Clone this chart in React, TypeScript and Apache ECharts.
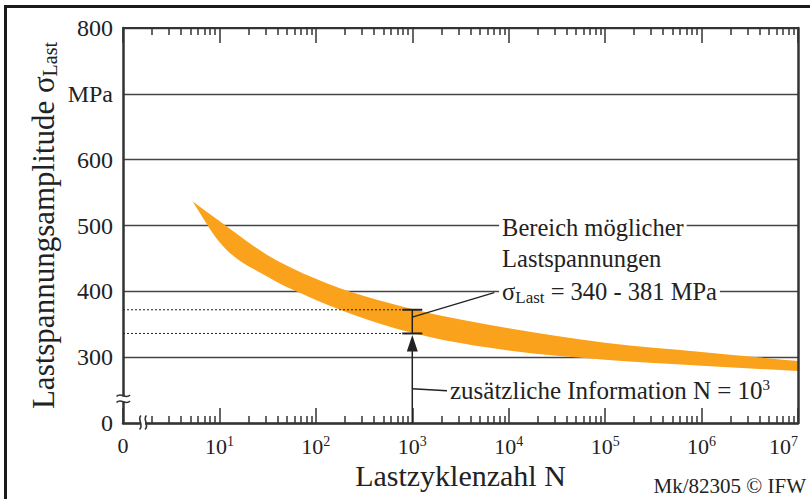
import React, { useEffect, useRef } from "react";
import * as echarts from "echarts";

const FONT = '"Liberation Serif", "Times New Roman", serif';
const INK = "#222";
const AXIS = "#333";
const BAND = "#FAA21B";

// ---- axes ----
const yTickValues = [200, 300, 400, 500, 600, 700, 800];
const yTickLabels = ["0", "300", "400", "500", "600", "MPa", "800"];
const xTickExponents = [0, 1, 2, 3, 4, 5, 6, 7];
const xTickLabels = ["0", "10^1", "10^2", "10^3", "10^4", "10^5", "10^6", "10^7"];
const minorMultipliers = [2, 3, 4, 5, 6, 7, 8, 9];

// ---- band of possible load stresses (N, sigma in MPa) ----
const bandUpperN = [5.25, 10, 31.6, 100, 1000, 10000, 100000, 1000000, 10000000];
const bandUpperSigma = [537, 507, 455, 419, 373, 344, 322, 308, 294];
const bandLowerN = [5.25, 10, 31.6, 100, 1000, 10000, 100000, 1000000, 10000000];
const bandLowerSigma = [537, 475, 422, 387, 337, 310, 296, 287, 279];

// ---- annotation at N = 10^3 ----
const annotN = 1000;
const annotSigmaLow = 336;
const annotSigmaHigh = 372;
const sigmaLeader = [[1000, 361], [7080, 398]];
const infoLeader = [[1000, 252], [2291, 249]];
const labelBereich = [7943, 497];
const labelLastsp = [7943, 450];
const labelSigma = [7943, 399];
const labelInfo = [2291, 250];

const Y_MIN = 200;
const Y_MAX = 800;

// Piecewise cubic Hermite (in x) through pixel points sorted by x; returns Bezier segments.
function hermiteSegments(p: number[][]): number[][][] {
  const n = p.length;
  const m: number[] = new Array(n).fill(0);
  for (let i = 0; i < n; i++) {
    if (i === 0) m[i] = (p[1][1] - p[0][1]) / (p[1][0] - p[0][0]);
    else if (i === n - 1) m[i] = (p[i][1] - p[i - 1][1]) / (p[i][0] - p[i - 1][0]);
    else {
      const h0 = p[i][0] - p[i - 1][0];
      const h1 = p[i + 1][0] - p[i][0];
      const d0 = (p[i][1] - p[i - 1][1]) / h0;
      const d1 = (p[i + 1][1] - p[i][1]) / h1;
      m[i] = (d0 * h1 + d1 * h0) / (h0 + h1);
    }
  }
  const segs: number[][][] = [];
  for (let i = 0; i < n - 1; i++) {
    const h = p[i + 1][0] - p[i][0];
    segs.push([
      p[i],
      [p[i][0] + h / 3, p[i][1] + (m[i] * h) / 3],
      [p[i + 1][0] - h / 3, p[i + 1][1] - (m[i + 1] * h) / 3],
      p[i + 1],
    ]);
  }
  return segs;
}

export default function App() {
  const ref = useRef<HTMLDivElement>(null);

  useEffect(() => {
    if (!ref.current) return;
    const chart = echarts.init(ref.current, null, { renderer: "svg" });

    const lg = (n: number) => Math.log10(n);
    const xMinor: number[] = [];
    for (let e = xTickExponents[0]; e < xTickExponents[xTickExponents.length - 1]; e++) {
      for (const k of minorMultipliers) xMinor.push(e + Math.log10(k));
    }
    const xMin = xTickExponents[0];
    const xMax = xTickExponents[xTickExponents.length - 1];

    const xBase: any = {
      type: "value",
      min: xMin,
      max: xMax,
      interval: 1,
      gridIndex: 0,
      splitLine: { show: false },
      nameMoveOverlap: false,
    };
    const tickStyle = { color: AXIS, width: 1.5 };

    const xLabelFormatter = (v: number) => {
      const i = xTickExponents.indexOf(Math.round(v));
      if (i < 0) return "";
      const t = xTickLabels[i];
      if (t.indexOf("^") < 0) return `{b|${t}}`;
      const [b, s] = t.split("^");
      return `{b|${b}}{sup|${s}}`;
    };

    const option: any = {
      animation: false,
      grid: { left: 123, top: 28, right: 12, bottom: 76, containLabel: false, outerBoundsMode: "none" },
      xAxis: [
        {
          ...xBase,
          position: "bottom",
          axisLine: { show: true, onZero: false, lineStyle: { color: AXIS, width: 2.5 } },
          axisTick: { show: true, inside: true, length: 15, lineStyle: tickStyle },
          axisLabel: {
            show: true,
            margin: 11,
            alignMaxLabel: "right",
            formatter: xLabelFormatter,
            rich: {
              b: { fontSize: 22, fontFamily: FONT, color: INK },
              sup: { fontSize: 14, fontFamily: FONT, color: INK, padding: [0, 0, 10, 0] },
            },
          },
          name: "Lastzyklenzahl N",
          nameLocation: "middle",
          nameGap: 37,
          nameTextStyle: { fontSize: 30, fontFamily: FONT, color: INK },
        },
        {
          ...xBase,
          position: "bottom",
          axisLine: { show: false, onZero: false },
          axisTick: { show: true, inside: true, length: 7, customValues: xMinor, lineStyle: tickStyle },
          axisLabel: { show: false },
        },
        {
          ...xBase,
          position: "top",
          axisLine: { show: true, onZero: false, lineStyle: { color: AXIS, width: 2 } },
          axisTick: { show: true, inside: true, length: 15, lineStyle: tickStyle },
          axisLabel: { show: false },
        },
        {
          ...xBase,
          position: "top",
          axisLine: { show: false, onZero: false },
          axisTick: { show: true, inside: true, length: 7, customValues: xMinor, lineStyle: tickStyle },
          axisLabel: { show: false },
        },
      ],
      yAxis: [
        {
          type: "value",
          min: Y_MIN,
          max: Y_MAX,
          interval: 100,
          position: "left",
          nameMoveOverlap: false,
          axisLine: { show: true, onZero: false, lineStyle: { color: AXIS, width: 2.5 } },
          axisTick: { show: false },
          axisLabel: {
            margin: 10,
            fontSize: 24,
            fontFamily: FONT,
            color: INK,
            formatter: (v: number) => {
              const i = yTickValues.indexOf(v);
              return i < 0 ? "" : yTickLabels[i];
            },
          },
          splitLine: { show: true, lineStyle: { color: "#444", width: 1.4 } },
          name: "{t|Lastspannungsamplitude σ}{sub|Last}",
          nameLocation: "middle",
          nameRotate: 90,
          nameGap: 63,
          nameTextStyle: {
            color: INK,
            fontFamily: FONT,
            fontSize: 31,
            rich: {
              t: { fontSize: 31, fontFamily: FONT, color: INK },
              sub: { fontSize: 20, fontFamily: FONT, color: INK, padding: [14, 0, 0, 0] },
            },
          },
        },
        {
          type: "value",
          min: Y_MIN,
          max: Y_MAX,
          interval: 100,
          position: "right",
          z: 10,
          axisLine: { show: true, onZero: false, lineStyle: { color: AXIS, width: 2.5 } },
          axisTick: { show: false },
          axisLabel: { show: false },
          splitLine: { show: false },
        },
      ],
      series: [
        {
          type: "custom",
          name: "band",
          xAxisIndex: 0,
          yAxisIndex: 0,
          silent: true,
          z: 2,
          data: [[xMin, Y_MIN]],
          renderItem: (params: any, api: any) => {
            const up = bandUpperN.map((n, i) => api.coord([lg(n), bandUpperSigma[i]]));
            const lo = bandLowerN.map((n, i) => api.coord([lg(n), bandLowerSigma[i]]));
            const upSeg = hermiteSegments(up);
            const loSeg = hermiteSegments(lo).reverse();
            let d = `M ${up[0][0]} ${up[0][1]}`;
            for (const s of upSeg) d += ` C ${s[1][0]} ${s[1][1]} ${s[2][0]} ${s[2][1]} ${s[3][0]} ${s[3][1]}`;
            const last = lo[lo.length - 1];
            d += ` L ${last[0]} ${last[1]}`;
            for (const s of loSeg) d += ` C ${s[2][0]} ${s[2][1]} ${s[1][0]} ${s[1][1]} ${s[0][0]} ${s[0][1]}`;
            d += " Z";
            return { type: "path", shape: { pathData: d }, style: { fill: BAND, stroke: null } };
          },
        },
        {
          type: "custom",
          name: "annotation",
          xAxisIndex: 0,
          yAxisIndex: 0,
          silent: true,
          z: 3,
          data: [[lg(annotN), annotSigmaLow]],
          renderItem: (params: any, api: any) => {
            const [x0, yHi] = api.coord([xMin, annotSigmaHigh]);
            const [xA] = api.coord([lg(annotN), annotSigmaHigh]);
            const [, yLo] = api.coord([lg(annotN), annotSigmaLow]);
            const [, yBase] = api.coord([lg(annotN), Y_MIN]);
            const cap = 10;
            const s1 = api.coord([lg(sigmaLeader[0][0]), sigmaLeader[0][1]]);
            const s2 = api.coord([lg(sigmaLeader[1][0]), sigmaLeader[1][1]]);
            const i1 = api.coord([lg(infoLeader[0][0]), infoLeader[0][1]]);
            const i2 = api.coord([lg(infoLeader[1][0]), infoLeader[1][1]]);
            const pB = api.coord([lg(labelBereich[0]), labelBereich[1]]);
            const pL = api.coord([lg(labelLastsp[0]), labelLastsp[1]]);
            const pS = api.coord([lg(labelSigma[0]), labelSigma[1]]);
            const pI = api.coord([lg(labelInfo[0]), labelInfo[1]]);
            const txt = (x: number, y: number, text: string, size: number, rich?: any) => ({
              type: "text",
              x,
              y,
              style: {
                text,
                fontSize: size,
                fontFamily: FONT,
                fill: INK,
                align: "left",
                verticalAlign: "middle",
                backgroundColor: "#fff",
                padding: [1, 3],
                rich,
              },
            });
            return {
              type: "group",
              children: [
                { type: "line", shape: { x1: x0, y1: yHi, x2: xA - cap, y2: yHi }, style: { stroke: INK, lineWidth: 1, lineDash: [2, 2] } },
                { type: "line", shape: { x1: x0, y1: yLo, x2: xA - cap, y2: yLo }, style: { stroke: INK, lineWidth: 1, lineDash: [2, 2] } },
                { type: "line", shape: { x1: xA - cap, y1: yHi, x2: xA + cap, y2: yHi }, style: { stroke: INK, lineWidth: 2 } },
                { type: "line", shape: { x1: xA - cap, y1: yLo, x2: xA + cap, y2: yLo }, style: { stroke: INK, lineWidth: 2 } },
                { type: "line", shape: { x1: xA, y1: yHi, x2: xA, y2: yLo }, style: { stroke: INK, lineWidth: 1.5 } },
                { type: "line", shape: { x1: xA, y1: yBase, x2: xA, y2: yLo + 14 }, style: { stroke: INK, lineWidth: 1.5 } },
                {
                  type: "polygon",
                  shape: { points: [[xA, yLo + 1.5], [xA - 5.5, yLo + 18], [xA + 5.5, yLo + 18]] },
                  style: { fill: INK },
                },
                { type: "line", shape: { x1: s1[0], y1: s1[1], x2: s2[0], y2: s2[1] }, style: { stroke: INK, lineWidth: 1.3 } },
                { type: "line", shape: { x1: i1[0], y1: i1[1], x2: i2[0], y2: i2[1] }, style: { stroke: INK, lineWidth: 1.3 } },
                txt(pB[0], pB[1], "Bereich möglicher", 24.5),
                txt(pL[0], pL[1], "Lastspannungen", 24.5),
                txt(pS[0], pS[1], "σ{sub|Last} = 340 - 381 MPa", 24.5, {
                  sub: { fontSize: 17, fontFamily: FONT, fill: INK, padding: [12, 0, 0, 0] },
                }),
                txt(pI[0], pI[1], "zusätzliche Information N = 10{sup|3}", 25, {
                  sup: { fontSize: 15, fontFamily: FONT, fill: INK, padding: [0, 0, 11, 0] },
                }),
              ],
            };
          },
        },
      ],
      graphic: [
        { type: "line", z: 100, shape: { x1: 4, y1: 6.5, x2: 810, y2: 6.5 }, style: { stroke: "#1a1a1a", lineWidth: 3 } },
        { type: "line", z: 100, shape: { x1: 5.5, y1: 5, x2: 5.5, y2: 499 }, style: { stroke: "#1a1a1a", lineWidth: 3 } },
        // axis break on y axis
        { type: "rect", z: 100, shape: { x: 119, y: 396.5, width: 8, height: 5 }, style: { fill: "#fff" } },
        {
          type: "bezierCurve",
          z: 101,
          shape: { x1: 116.5, y1: 396.5, x2: 130, y2: 395, cpx1: 121, cpy1: 391.5, cpx2: 125.5, cpy2: 400 },
          style: { stroke: AXIS, lineWidth: 1.6, fill: "none" },
        },
        {
          type: "bezierCurve",
          z: 101,
          shape: { x1: 116.5, y1: 402.5, x2: 130, y2: 401, cpx1: 121, cpy1: 397.5, cpx2: 125.5, cpy2: 406 },
          style: { stroke: AXIS, lineWidth: 1.6, fill: "none" },
        },
        // axis break on x axis
        { type: "rect", z: 100, shape: { x: 140.5, y: 420, width: 4.5, height: 6 }, style: { fill: "#fff" } },
        {
          type: "bezierCurve",
          z: 101,
          shape: { x1: 141, y1: 415.5, x2: 139.5, y2: 429.5, cpx1: 136.5, cpy1: 419.5, cpx2: 144.5, cpy2: 425 },
          style: { stroke: AXIS, lineWidth: 1.6, fill: "none" },
        },
        {
          type: "bezierCurve",
          z: 101,
          shape: { x1: 146.5, y1: 415.5, x2: 145, y2: 429.5, cpx1: 142, cpy1: 419.5, cpx2: 150, cpy2: 425 },
          style: { stroke: AXIS, lineWidth: 1.6, fill: "none" },
        },
        {
          type: "text",
          z: 100,
          x: 806,
          y: 486,
          style: { text: "Mk/82305 © IFW", fontSize: 21, fontFamily: FONT, fill: INK, align: "right", verticalAlign: "middle" },
        },
      ],
    };

    chart.setOption(option);
    return () => chart.dispose();
  }, []);

  return (
    <div
      ref={ref}
      style={{ position: "absolute", left: 0, top: 0, width: 810, height: 499, background: "#fff" }}
    />
  );
}
